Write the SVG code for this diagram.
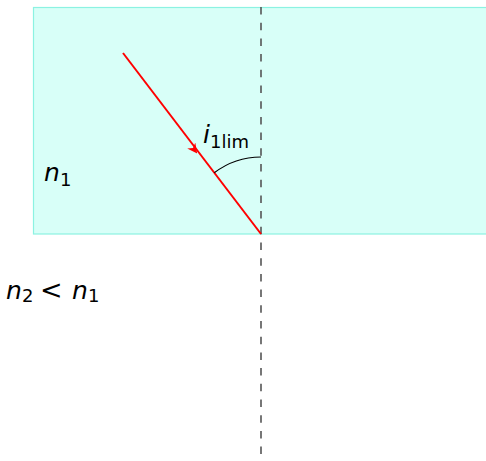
<svg xmlns="http://www.w3.org/2000/svg" width="486" height="461" viewBox="0 0 486 461">
<style>
.lbl{font-family:"DejaVu Sans",sans-serif;fill:#000}
.it{font-style:italic;font-size:25px}
.rel{font-size:27px}
.sub{font-size:18px}
</style>
<defs>
<marker id="stealth" viewBox="0 0 10 10" refX="8" refY="5" markerWidth="10" markerHeight="10" markerUnits="userSpaceOnUse" orient="auto">
<path d="M0,0 L10,5 L0,10 L3,5 Z" fill="#ff0000"/>
</marker>
</defs>
<g id="medium1">
<rect x="33.5" y="7.5" width="460" height="226.5" fill="#d8fff8" stroke="#8cf2e2" stroke-width="1.2"/>
</g>
<g id="connectors">
<line id="normal" x1="261" y1="7" x2="261" y2="461" stroke="#555" stroke-width="1.6" stroke-dasharray="7.5 8.2"/>
<line id="ray" x1="123" y1="53" x2="261" y2="234" stroke="#ff0000" stroke-width="2"/>
<line id="ray-arrow" x1="123" y1="53" x2="196" y2="152" stroke="none" stroke-width="2" marker-end="url(#stealth)"/>
<path id="angle" d="M261,157 A77,77 0 0 0 214.3,172.8" fill="none" stroke="#000" stroke-width="1.1"/>
</g>
<g id="label-i">
<text class="lbl" x="203" y="143"><tspan class="it">i</tspan><tspan class="sub" x="210" y="148">1lim</tspan></text>
</g>
<g id="label-n1">
<text class="lbl" x="44" y="181"><tspan class="it">n</tspan><tspan class="sub" x="60" y="186">1</tspan></text>
</g>
<g id="label-n2">
<text class="lbl" x="6" y="299"><tspan class="it">n</tspan><tspan class="sub" x="22" y="302">2</tspan><tspan class="rel" x="40" y="299">&lt;</tspan><tspan class="it" x="72" y="299">n</tspan><tspan class="sub" x="88" y="302">1</tspan></text>
</g>
</svg>
